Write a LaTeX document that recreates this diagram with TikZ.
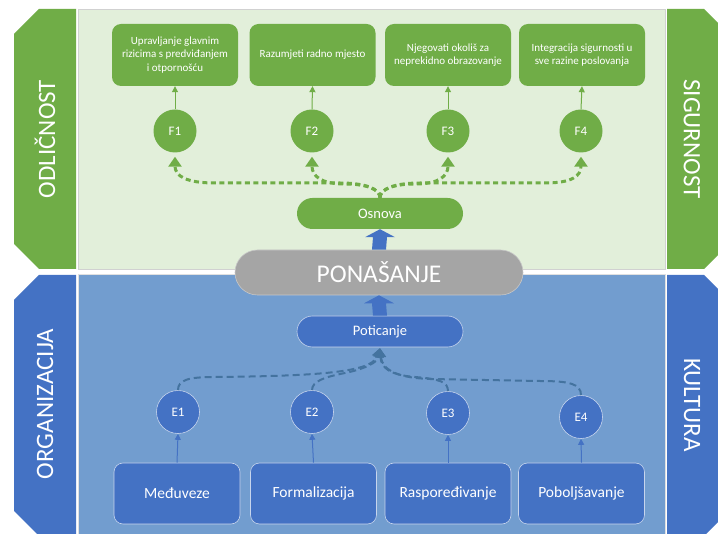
\documentclass[tikz,border=0pt]{standalone}
\usepackage{fontspec}
\setmainfont{Carlito}
\usetikzlibrary{arrows.meta,calc}

\definecolor{lgreen}{HTML}{70AD47}
\definecolor{pgreen}{HTML}{E2EFDA}
\definecolor{lblue}{HTML}{4472C4}
\definecolor{pblue}{RGB}{114,157,207}
\definecolor{dblue}{HTML}{44739F}
\definecolor{pgrey}{HTML}{A5A5A5}

\tikzset{
  fs/.style={font=\fontsize{#1pt}{1.22\dimexpr #1pt\relax}\selectfont},
  sidelabel/.style={text=white, fs=25},
  gbox/.style={fill=lgreen, rounded corners=9pt, minimum width=126pt, minimum height=62pt,
    text=white, align=center, fs=11, inner sep=2pt},
  bbox/.style={fill=lblue, draw=white!70!lblue, line width=0.6pt, rounded corners=9pt,
    minimum width=126pt, minimum height=61pt, text=white, fs=15.5},
  gcirc/.style={circle, fill=lgreen, minimum size=43pt, inner sep=0pt, text=white, fs=13},
  bcirc/.style={circle, fill=lblue, draw=white!70!lblue, line width=0.6pt, minimum size=43pt,
    inner sep=0pt, text=white, fs=13},
  gpill/.style={fill=lgreen, rounded corners=15.5pt, minimum width=166pt, minimum height=31pt,
    text=white, fs=14.5},
  bpill/.style={fill=lblue, draw=white!70!lblue, line width=0.6pt, rounded corners=15.5pt,
    minimum width=166pt, minimum height=31pt, text=white, fs=14.5},
  thin green/.style={draw=lgreen, line width=1pt, -{Triangle[length=6pt,width=6pt]}},
  thin blue/.style={draw=lblue, line width=1pt, -{Triangle[length=6pt,width=6pt]}},
  green dash/.style={draw=lgreen, line width=3pt, dash pattern=on 5pt off 3.5pt,
    -{Triangle[length=10pt,width=13pt]}, shorten >=4pt},
  blue dash/.style={draw=dblue, line width=2pt, dash pattern=on 7pt off 4pt,
    -{Triangle[length=9pt,width=10pt]}, shorten >=1pt},
}

\begin{document}
\begin{tikzpicture}[x=1pt, y=-1pt]
  \useasboundingbox (0,0) rectangle (718,534);
  \clip (0,0) rectangle (718,534);
  \fill[white] (0,0) rectangle (718,534);

  % background panels
  \filldraw[fill=pgreen, draw=black!18, line width=0.6pt] (78,9) rectangle (665,269);
  \filldraw[fill=pblue, draw=black!12, line width=0.6pt] (78,274) rectangle (665,536);

  % side bars
  \fill[lgreen] (14,34) -- (39,9) -- (76,9) -- (76,269) -- (39,269) -- (14,244) -- cycle;
  \fill[lblue]  (14,300) -- (39,275) -- (76,275) -- (76,536) -- (39,536) -- (14,511) -- cycle;
  \fill[lgreen] (667,9) -- (704,9) -- (729,34) -- (729,244) -- (704,269) -- (667,269) -- cycle;
  \fill[lblue]  (667,275) -- (704,275) -- (729,300) -- (729,511) -- (704,536) -- (667,536) -- cycle;

  \node[sidelabel, rotate=90]  (odl) at (45,139) {ODLIČNOST};
  \node[sidelabel, rotate=90]  (org) at (45,404) {ORGANIZACIJA};
  \node[sidelabel, rotate=-90] (sig) at (692,139) {SIGURNOST};
  \node[sidelabel, rotate=-90] (kul) at (692,405) {KULTURA};

  % top goals
  \node[gbox] (g1) at (175,55) {Upravljanje glavnim\\rizicima s predviđanjem\\i otpornošću};
  \node[gbox] (g2) at (312.5,55) {Razumjeti radno mjesto};
  \node[gbox] (g3) at (448,55) {Njegovati okoliš za\\neprekidno obrazovanje};
  \node[gbox] (g4) at (582,55) {Integracija sigurnosti u\\sve razine poslovanja};

  \node[gcirc] (f1) at (175,131) {F1};
  \node[gcirc] (f2) at (312,131) {F2};
  \node[gcirc] (f3) at (448,131) {F3};
  \node[gcirc] (f4) at (581,131) {F4};

  \foreach \i in {1,...,4} \draw[thin green] (f\i.north) -- (g\i.south);

  % centre column
  \node[gpill] (os) at (380,213.5) {Osnova};
  \node[fill=pgrey, draw=black!22, line width=0.6pt, rounded corners=22.5pt,
        minimum width=288pt, minimum height=45pt, text=white, fs=25.5] (pon) at (379,272.5) {PONAŠANJE};
  \node[bpill] (pot) at (380,331.5) {Poticanje};

  % block arrows
  \fill[lblue] ($(pon.north)+(-7,0)$) -- ($(os.south)+(-7,8)$) -- ($(os.south)+(-15,8)$)
    -- (os.south) -- ($(os.south)+(15,8)$) -- ($(os.south)+(7,8)$) -- ($(pon.north)+(7,0)$) -- cycle;
  \fill[lblue] ($(pot.north)+(-7,0)$) -- ($(pon.south)+(-7,8)$) -- ($(pon.south)+(-15,8)$)
    -- (pon.south) -- ($(pon.south)+(15,8)$) -- ($(pon.south)+(7,8)$) -- ($(pot.north)+(7,0)$) -- cycle;

  % dashed links from Osnova
  \draw[green dash] (os.north) .. controls (380,189) and (366,183) .. (340,183) -- (215,183)
    .. controls (186,183) and (175,176) .. (f1.south);
  \draw[green dash] (os.north) .. controls (380,189) and (366,184) .. (345,184)
    .. controls (321,184) and (312,176) .. (f2.south);
  \draw[green dash] (os.north) .. controls (380,189) and (394,184) .. (415,184)
    .. controls (439,184) and (448,176) .. (f3.south);
  \draw[green dash] (os.north) .. controls (380,189) and (394,183) .. (420,183) -- (545,183)
    .. controls (572,183) and (581,176) .. (f4.south);

  % bottom elements
  \node[bbox] (b1) at (177,493.5) {Međuveze};
  \node[bbox] (b2) at (313.5,493.5) {Formalizacija};
  \node[bbox] (b3) at (448,493.5) {Raspoređivanje};
  \node[bbox] (b4) at (581.5,493.5) {Poboljšavanje};

  \node[bcirc] (e1) at (178,412) {E1};
  \node[bcirc] (e2) at (312,412) {E2};
  \node[bcirc] (e3) at (448,413) {E3};
  \node[bcirc] (e4) at (581,417) {E4};

  \foreach \i in {1,...,4} \draw[thin blue] (b\i.north) -- (e\i.south);

  % dashed links to Poticanje
  \draw[blue dash] (e1.north) .. controls (178,380) and (188,377) .. (215,377)
    .. controls (320,376) and (372,372) .. (pot.south);
  \draw[blue dash] (e2.north) .. controls (312,381) and (325,377) .. (345,373)
    .. controls (365,369) and (378,362) .. (pot.south);
  \draw[blue dash] (e3.north) .. controls (448,382) and (440,379) .. (415,377)
    .. controls (390,375) and (381,368) .. (pot.south);
  \draw[blue dash] (e4.north) .. controls (581,384) and (570,381) .. (540,381) -- (430,379)
    .. controls (398,378) and (382,370) .. (pot.south);
\end{tikzpicture}
\end{document}
